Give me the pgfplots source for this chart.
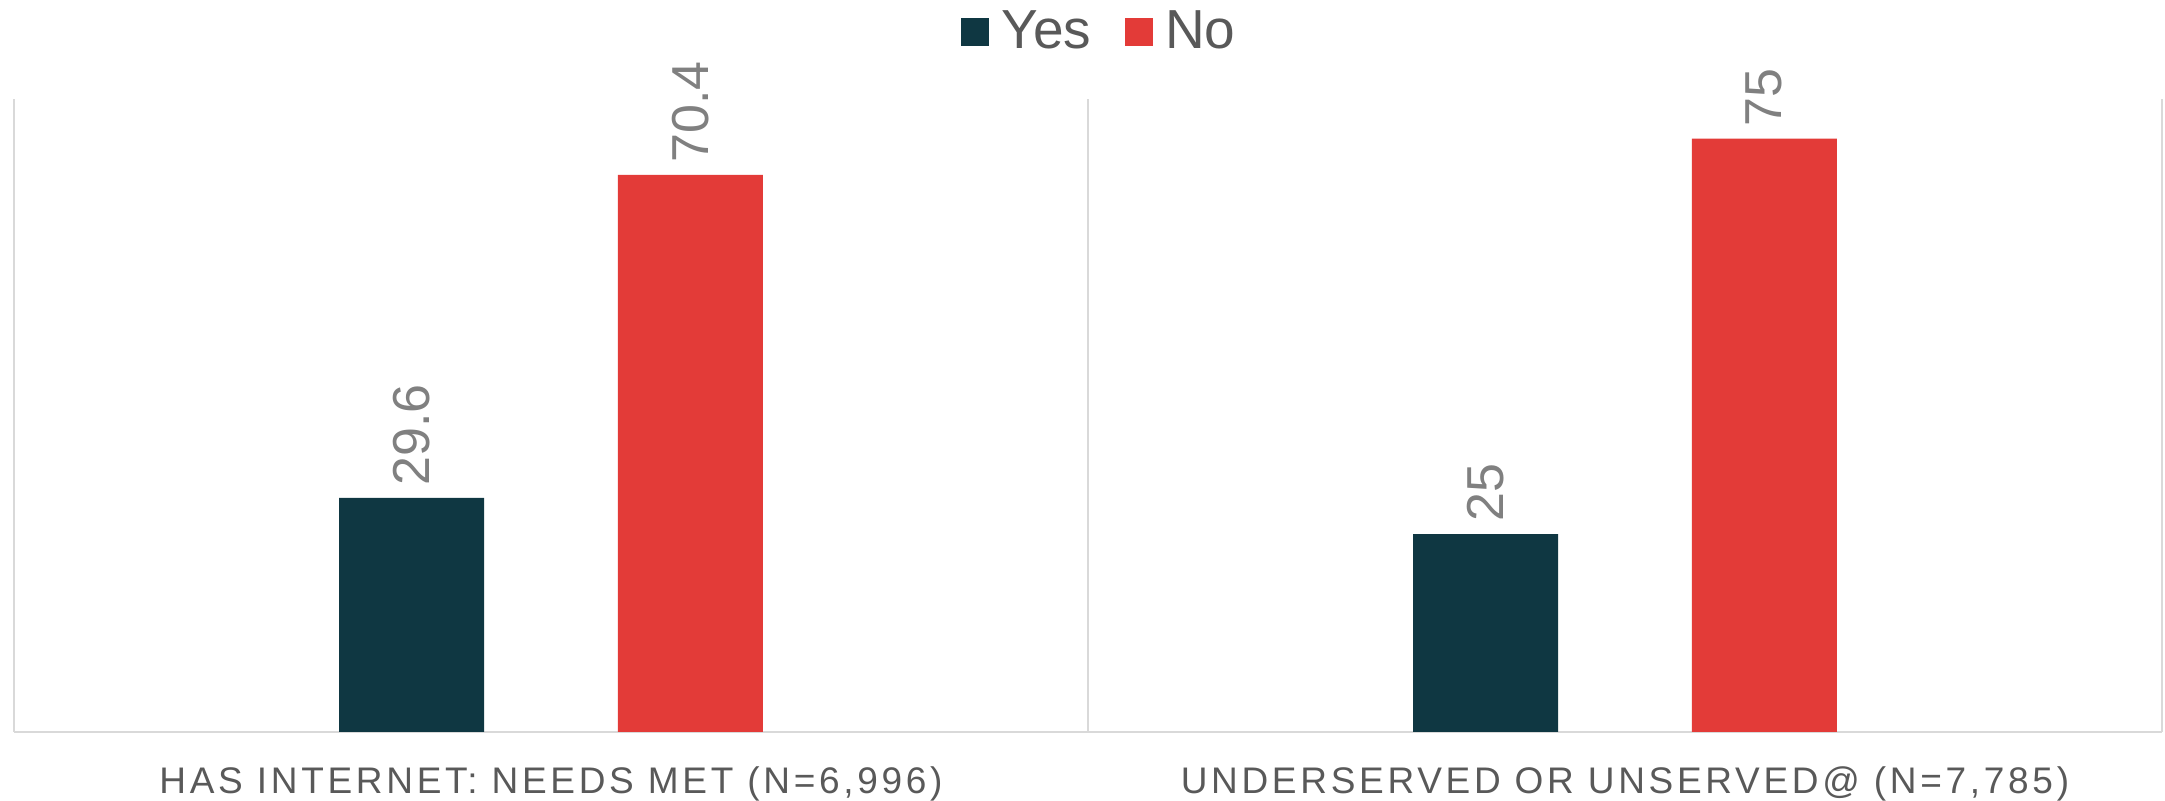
\documentclass[border=0pt]{standalone}
\usepackage{fontspec}
\setmainfont{Liberation Sans}
\usepackage{pgfplots}
\pgfplotsset{compat=1.18}
\definecolor{yescol}{HTML}{0F3742}
\definecolor{nocol}{HTML}{E33B38}
\definecolor{lbl}{HTML}{808080}
\definecolor{tickc}{HTML}{595959}
\definecolor{gridc}{HTML}{D9D9D9}
\begin{document}
\begin{tikzpicture}
\path[use as bounding box] (0,0) rectangle (1082.5pt,400.5pt);
\begin{axis}[
  at={(7pt,34.5pt)}, anchor=south west,
  scale only axis, width=1074pt, height=316.5pt,
  xmin=-0.5, xmax=1.5, ymin=0, ymax=80,
  clip=false,
  axis line style={draw=none},
  ytick=\empty,
  xtick={0,1},
  xticklabels={{HAS INTERNET: NEEDS MET (N=6,996)},{UNDERSERVED OR UNSERVED@ (N=7,785)}},
  major tick length=0pt,
  xticklabel style={font=\fontsize{18.5}{20}\selectfont\addfontfeature{LetterSpace=10}, text=tickc, anchor=base, yshift=-31pt},
  ybar, bar width=0.135,
  /pgf/number format/assume math mode=true,
  nodes near coords,
  every node near coord/.append style={font=\fontsize{26}{28}\selectfont, text=lbl, rotate=90, anchor=west, inner sep=0pt, xshift=6pt},
  legend columns=2,
  legend style={draw=none, at={(0.5058,1.1066)}, anchor=center, font=\fontsize{27.5}{29}\selectfont, text=tickc,
    /tikz/every odd column/.append style={column sep=4pt},
    /tikz/every even column/.append style={column sep=15pt}},
  legend image code/.code={\fill[#1] (0pt,-7pt) rectangle (14pt,7pt);},
]
\draw[gridc, line width=1pt] (axis cs:-0.5,0) -- (axis cs:1.5,0);
\draw[gridc, line width=1pt] (axis cs:-0.5,0) -- (axis cs:-0.5,80);
\draw[gridc, line width=1pt] (axis cs:0.5,0) -- (axis cs:0.5,80);
\draw[gridc, line width=1pt] (axis cs:1.5,0) -- (axis cs:1.5,80);
\addplot[fill=yescol, draw=none, bar shift=-0.1297] coordinates {(0,29.6) (1,25)};
\addplot[fill=nocol, draw=none, bar shift=0.1297] coordinates {(0,70.4) (1,75)};
\legend{Yes, No}
\end{axis}
\end{tikzpicture}
\end{document}
